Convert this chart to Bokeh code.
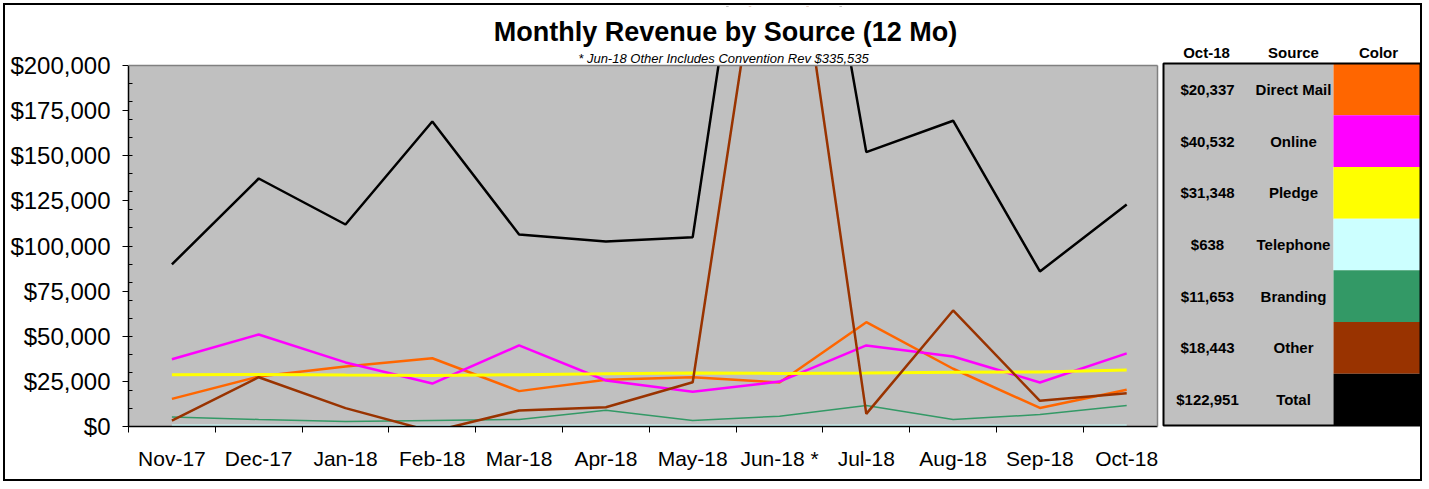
from bokeh.plotting import figure
from bokeh.models import Range1d, FixedTicker, NumeralTickFormatter
from bokeh.core.properties import value
from bokeh.embed import file_html
from bokeh.resources import INLINE

# ---------------- data ----------------
months = ["Nov-17", "Dec-17", "Jan-18", "Feb-18", "Mar-18", "Apr-18",
          "May-18", "Jun-18 *", "Jul-18", "Aug-18", "Sep-18", "Oct-18"]
direct_mail = [15300, 27700, 33300, 37800, 19600, 25900, 27300, 24400, 57800, 32000, 10300, 20337]
online = [37300, 51000, 35500, 23800, 44900, 25500, 19200, 24900, 44900, 38800, 24400, 40532]
pledge = [28700, 28800, 28500, 28300, 28700, 29200, 29600, 29400, 29600, 30000, 30200, 31348]
telephone = [700, 650, 600, 550, 600, 700, 650, 600, 700, 650, 600, 638]
branding = [5200, 3900, 2800, 3300, 3900, 9000, 3300, 5700, 11600, 3900, 6600, 11653]
other = [3300, 27300, 10200, -2800, 8900, 10700, 24500, 340000, 7000, 64300, 14200, 18443]
total = [89800, 137400, 111900, 169000, 106400, 102500, 104900, 425000, 152000, 169400, 85900, 122951]

series_names = ["Direct Mail", "Online", "Pledge", "Telephone", "Branding", "Other", "Total"]
series_values = [direct_mail, online, pledge, telephone, branding, other, total]
series_colors = ["#FF6600", "#FF00FF", "#FFFF00", "#CCFFFF", "#339966", "#993300", "#000000"]
series_widths = [2.5, 2.5, 3, 1.5, 1.5, 2.5, 2.5]

y_ticks = [0, 25000, 50000, 75000, 100000, 125000, 150000, 175000, 200000]

title_text = "Monthly Revenue by Source (12 Mo)"
subtitle_text = "* Jun-18 Other Includes Convention Rev $335,535"
table_header = ["Oct-18", "Source", "Color"]

# ---------------- layout (page pixel helpers) ----------------
OX = 5                      # css margin (3) + border (2)
W, H = 1419, 478            # canvas size
PL, PR, PT, PB = 128, OX + W, 6, 426    # frame edges in page px
CAT_W = 86.8                # px per month
YMAX = 200000
Y_PX = 361                  # px for 0..YMAX
CHART_R = 1157              # visible right edge of chart area (page px)

def fx(px):
    return -0.5 + (px - PL) / CAT_W

def fy(py):
    return (PB - py) * YMAX / Y_PX

p = figure(width=W, height=H, output_backend="svg", toolbar_location=None,
           x_range=Range1d(-0.5, fx(PR)), y_range=Range1d(0, fy(PT)),
           min_border_left=PL - OX, min_border_right=W - (PR - OX),
           min_border_top=PT - OX, min_border_bottom=H - (PB - OX),
           background_fill_color="white", border_fill_color="white",
           outline_line_color=None,
           styles={"border": "2px solid black", "margin": "3px"})
p.grid.visible = False

x_left, x_right = fx(PL), fx(CHART_R)

# chart background
p.quad(left=[x_left], right=[x_right], bottom=[0], top=[YMAX],
       fill_color="#C0C0C0", line_color=None, level="underlay")

xs = list(range(len(months)))
for vals, col, lw in zip(series_values, series_colors, series_widths):
    p.line(xs, vals, line_color=col, line_width=lw)

# cover for values above the chart top (clip at $200,000)
p.quad(left=[x_left], right=[x_right], bottom=[YMAX], top=[fy(PT)],
       fill_color="white", line_color=None, level="annotation")
# chart top / right edges
p.segment(x0=[x_left, x_right], y0=[YMAX, 0], x1=[x_right, x_right], y1=[YMAX, YMAX],
          line_color="#808080", line_width=1.5, level="annotation")

# x axis
xa = p.xaxis[0]
xa.bounds = (x_left, x_right)
xa.ticker = FixedTicker(ticks=xs, minor_ticks=[i - 0.5 for i in range(len(months))])
xa.major_label_overrides = {i: m for i, m in zip(xs, months)}
xa.major_tick_line_color = None
xa.minor_tick_line_color = "black"
xa.minor_tick_out = 6
xa.minor_tick_in = 0
xa.axis_line_color = "black"
xa.axis_line_width = 1.5
xa.major_label_text_font = "Liberation Sans"
xa.major_label_text_font_size = "21px"
xa.major_label_text_color = "black"
xa.major_label_standoff = 14

# y axis
ya = p.yaxis[0]
ya.bounds = (0, YMAX)
ya.ticker = FixedTicker(ticks=y_ticks, minor_ticks=list(range(0, YMAX + 1, 10000)))
ya.formatter = NumeralTickFormatter(format="$0,0")
ya.major_tick_out = 6
ya.major_tick_in = 0
ya.minor_tick_in = 4
ya.minor_tick_out = 0
ya.major_tick_line_color = "black"
ya.minor_tick_line_color = "black"
ya.axis_line_color = "black"
ya.axis_line_width = 1.5
ya.major_label_text_font = "Liberation Sans"
ya.major_label_text_font_size = "24px"
ya.major_label_text_color = "black"
ya.major_label_standoff = 12

# titles
p.text(x=[fx(725)], y=[fy(31)], text=[title_text], text_font=value("Liberation Sans"),
       text_font_style="bold", text_font_size="27px", text_align="center",
       text_baseline="middle", text_color="black", level="overlay")
p.text(x=[fx(723)], y=[fy(58)], text=[subtitle_text],
       text_font=value("Liberation Sans"), text_font_style="italic",
       text_font_size="13px", text_align="center", text_baseline="middle",
       text_color="black", level="overlay")

# table
TL, TC, TR, TT, TB = 1163, 1333, 1420, 63, 425
rh = (TB - TT) / len(series_names)
p.quad(left=[fx(TL)], right=[fx(TC)], top=[fy(TT)], bottom=[fy(TB)],
       fill_color="#C0C0C0", line_color=None, level="overlay")
tops = [TT + i * rh for i in range(len(series_names))]
p.quad(left=[fx(TC)] * len(tops), right=[fx(TR)] * len(tops),
       top=[fy(t) for t in tops], bottom=[fy(t + rh) for t in tops],
       fill_color=series_colors, line_color=None, level="overlay")
p.quad(left=[fx(TL)], right=[fx(TR)], top=[fy(TT)], bottom=[fy(TB)],
       fill_color=None, line_color="black", line_width=2, level="overlay")
cys = [fy(t + rh / 2) for t in tops]
p.text(x=[fx(1207)] * len(cys), y=cys, text=["${:,}".format(v[-1]) for v in series_values],
       text_font=value("Liberation Sans"), text_font_style="bold", text_font_size="15px",
       text_align="center", text_baseline="middle", text_color="black", level="overlay")
p.text(x=[fx(1293)] * len(cys), y=cys, text=series_names,
       text_font=value("Liberation Sans"), text_font_style="bold", text_font_size="15px",
       text_align="center", text_baseline="middle", text_color="black", level="overlay")
p.text(x=[fx(1206), fx(1293), fx(1378)], y=[fy(52)] * 3, text=table_header,
       text_font=value("Liberation Sans"), text_font_style="bold", text_font_size="15px",
       text_align="center", text_baseline="middle", text_color="black", level="overlay")

open("out.html", "w").write(file_html(p, INLINE))
